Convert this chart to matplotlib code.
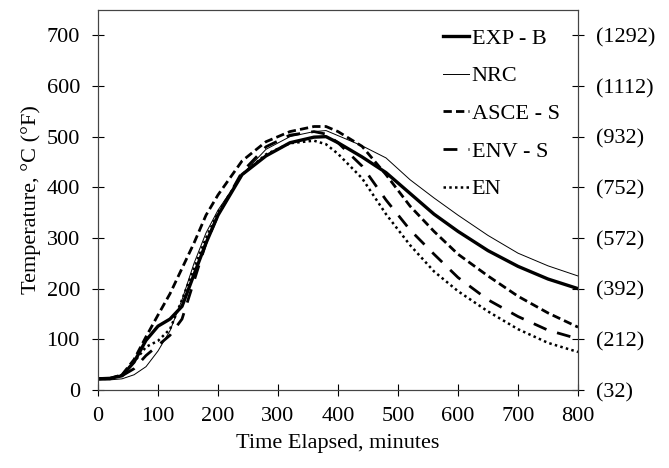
import matplotlib
matplotlib.use('Agg')
import matplotlib.pyplot as plt

# tempo (minuti) e temperature (°C)
time_min = [0, 20, 40, 60, 80, 100, 120, 140, 160, 180, 200, 240, 280, 320, 360,
            380, 400, 440, 480, 520, 560, 600, 650, 700, 750, 800]
exp_b = [22, 23, 28, 55, 98, 126, 140, 165, 228, 290, 345, 425, 462, 488, 499,
         500, 488, 460, 429, 388, 347, 313, 275, 244, 219, 200]
nrc = [20, 20, 22, 30, 46, 77, 117, 178, 250, 310, 355, 425, 475, 500, 510,
       512, 502, 482, 458, 415, 379, 345, 305, 270, 245, 225]
asce_s = [22, 23, 30, 60, 105, 148, 190, 240, 290, 345, 385, 452, 490, 510, 520,
          520, 510, 481, 425, 363, 313, 268, 225, 185, 152, 124]
env_s = [22, 22, 28, 42, 68, 88, 108, 140, 215, 290, 345, 430, 480, 503, 510,
         505, 488, 442, 375, 316, 268, 222, 178, 145, 118, 101]
en = [22, 22, 30, 55, 85, 97, 120, 178, 240, 300, 350, 425, 465, 487, 492,
      485, 466, 418, 347, 286, 234, 195, 155, 120, 93, 75]

c_ticks = [0, 100, 200, 300, 400, 500, 600, 700]
f_labels = ['(32)', '(212)', '(392)', '(572)', '(752)', '(932)', '(1112)', '(1292)']

plt.rcParams['font.family'] = ['Liberation Serif', 'DejaVu Serif']
plt.rcParams['font.size'] = 16

fig = plt.figure(figsize=(6.69, 4.68), dpi=100)
ax = fig.add_axes([0.1465, 0.1667, 0.7175, 0.812])

ax.plot(time_min, exp_b, color='black', lw=2.4, label='EXP - B')
ax.plot(time_min, nrc, color='black', lw=0.7, label='NRC')
ax.plot(time_min, asce_s, color='black', lw=2.0, dashes=(3, 1.5), label='ASCE - S')
ax.plot(time_min, env_s, color='black', lw=2.0, dashes=(5, 4), label='ENV - S')
ax.plot(time_min, en, color='black', lw=1.8, dashes=(1, 1.3), label='EN')

ax.set_xlim(0, 800)
ax.set_ylim(0, 750)
ax.set_xticks(range(0, 801, 100))
ax.set_yticks(c_ticks)
ax.tick_params(direction='inout', length=8, width=0.8)
ax.tick_params(axis='y', pad=9)
ax.tick_params(axis='x', pad=8)
ax.set_xlabel('Time Elapsed, minutes', labelpad=6)
ax.set_ylabel('Temperature, °C (°F)', labelpad=4)

ax2 = ax.twinx()
ax2.set_ylim(0, 750)
ax2.set_yticks(c_ticks)
ax2.set_yticklabels(f_labels)
ax2.tick_params(direction='inout', length=8, width=0.8, pad=9)

for a in (ax, ax2):
    for s in a.spines.values():
        s.set_linewidth(0.8)
        s.set_color('#444444')

leg = ax.legend(loc='upper left', bbox_to_anchor=(0.718, 0.952), frameon=False,
                handlelength=1.2, handletextpad=0.1, labelspacing=0.77,
                borderaxespad=0, borderpad=0, fontsize=16)

fig.savefig('out.png', dpi=100)
